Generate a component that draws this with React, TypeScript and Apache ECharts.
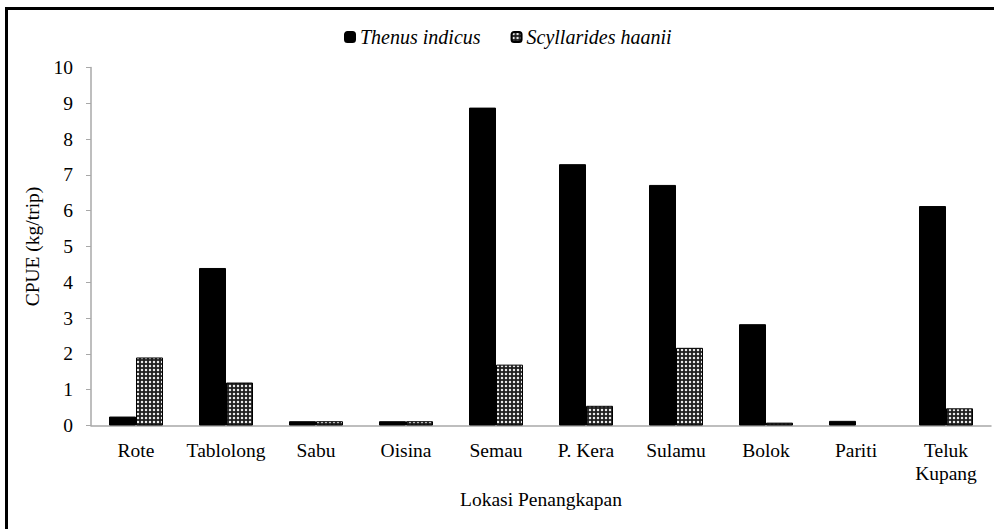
import React, { useEffect, useRef } from "react";
import * as echarts from "echarts";

const categories = ["Rote", "Tablolong", "Sabu", "Oisina", "Semau", "P. Kera", "Sulamu", "Bolok", "Pariti", "Teluk\nKupang"];
const thenusIndicus = [0.25, 4.4, 0.12, 0.12, 8.88, 7.3, 6.72, 2.83, 0.13, 6.13];
const scyllaridesHaanii = [1.9, 1.2, 0.12, 0.12, 1.7, 0.55, 2.17, 0.08, 0, 0.48];
const yTicks = { min: 0, max: 10, interval: 1 };

function makePattern(): string {
  const c = document.createElement("canvas");
  c.width = 4;
  c.height = 4;
  const ctx = c.getContext("2d")!;
  ctx.fillStyle = "#1e1e1e";
  ctx.fillRect(0, 0, 4, 4);
  ctx.fillStyle = "#e8e8e8";
  ctx.beginPath();
  ctx.arc(2, 2, 1.25, 0, Math.PI * 2);
  ctx.fill();
  return c.toDataURL();
}

// zero values are drawn as no bar at all (no outline), as in the reference
const hideZero = (arr: number[]) => arr.map((v) => (v === 0 ? null : v));

export default function App() {
  const ref = useRef<HTMLDivElement>(null);
  useEffect(() => {
    if (!ref.current) return;
    const chart = echarts.init(ref.current, undefined, { renderer: "svg" });
    const font = "Liberation Serif";
    const pattern = makePattern();
    chart.setOption({
      animation: false,
      backgroundColor: "#fff",
      textStyle: { fontFamily: font, color: "#000" },
      legend: {
        left: 339,
        top: 22,
        itemWidth: 10,
        itemHeight: 10,
        itemGap: 30,
        textStyle: { fontFamily: "Liberation Serif", fontSize: 20, fontStyle: "italic", color: "#000" },
        data: ["Thenus indicus", "Scyllarides haanii"],
      },
      grid: { left: 91, top: 67.5, width: 900, height: 358, containLabel: false },
      xAxis: {
        type: "category",
        data: categories,
        name: "Lokasi Penangkapan",
        nameLocation: "middle",
        nameGap: 64,
        nameTextStyle: { fontFamily: font, fontSize: 19.5, color: "#000" },
        axisLine: { lineStyle: { color: "#a8a8a8", width: 1.5 } },
        axisTick: { show: false },
        axisLabel: { fontFamily: font, fontSize: 19.5, color: "#000", margin: 13, lineHeight: 23, interval: 0 },
      },
      yAxis: {
        type: "value",
        min: yTicks.min,
        max: yTicks.max,
        interval: yTicks.interval,
        name: "CPUE (kg/trip)",
        nameLocation: "middle",
        nameGap: 40,
        nameTextStyle: { fontFamily: font, fontSize: 19.5, color: "#000" },
        axisLine: { show: true, lineStyle: { color: "#a8a8a8", width: 1.5 } },
        axisTick: { show: true, length: 5, lineStyle: { color: "#a8a8a8" } },
        splitLine: { show: false },
        axisLabel: { fontFamily: font, fontSize: 19.5, color: "#000", margin: 18 },
      },
      series: [
        {
          name: "Thenus indicus",
          type: "bar",
          data: hideZero(thenusIndicus),
          barGap: "0%",
          barCategoryGap: "40%",
          itemStyle: { color: "#000", borderColor: "#000", borderWidth: 1 },
        },
        {
          name: "Scyllarides haanii",
          type: "bar",
          data: hideZero(scyllaridesHaanii),
          itemStyle: {
            color: { image: pattern, repeat: "repeat" },
            borderColor: "#000",
            borderWidth: 1,
          },
        },
      ],
      graphic: [
        {
          type: "rect",
          shape: { x: 6.5, y: 8.5, width: 1100, height: 700 },
          style: { fill: "none", stroke: "#000", lineWidth: 3 },
          silent: true,
        },
      ],
    });
    return () => chart.dispose();
  }, []);
  return <div ref={ref} style={{ position: "absolute", left: 0, top: 0, width: 994, height: 529 }} />;
}
